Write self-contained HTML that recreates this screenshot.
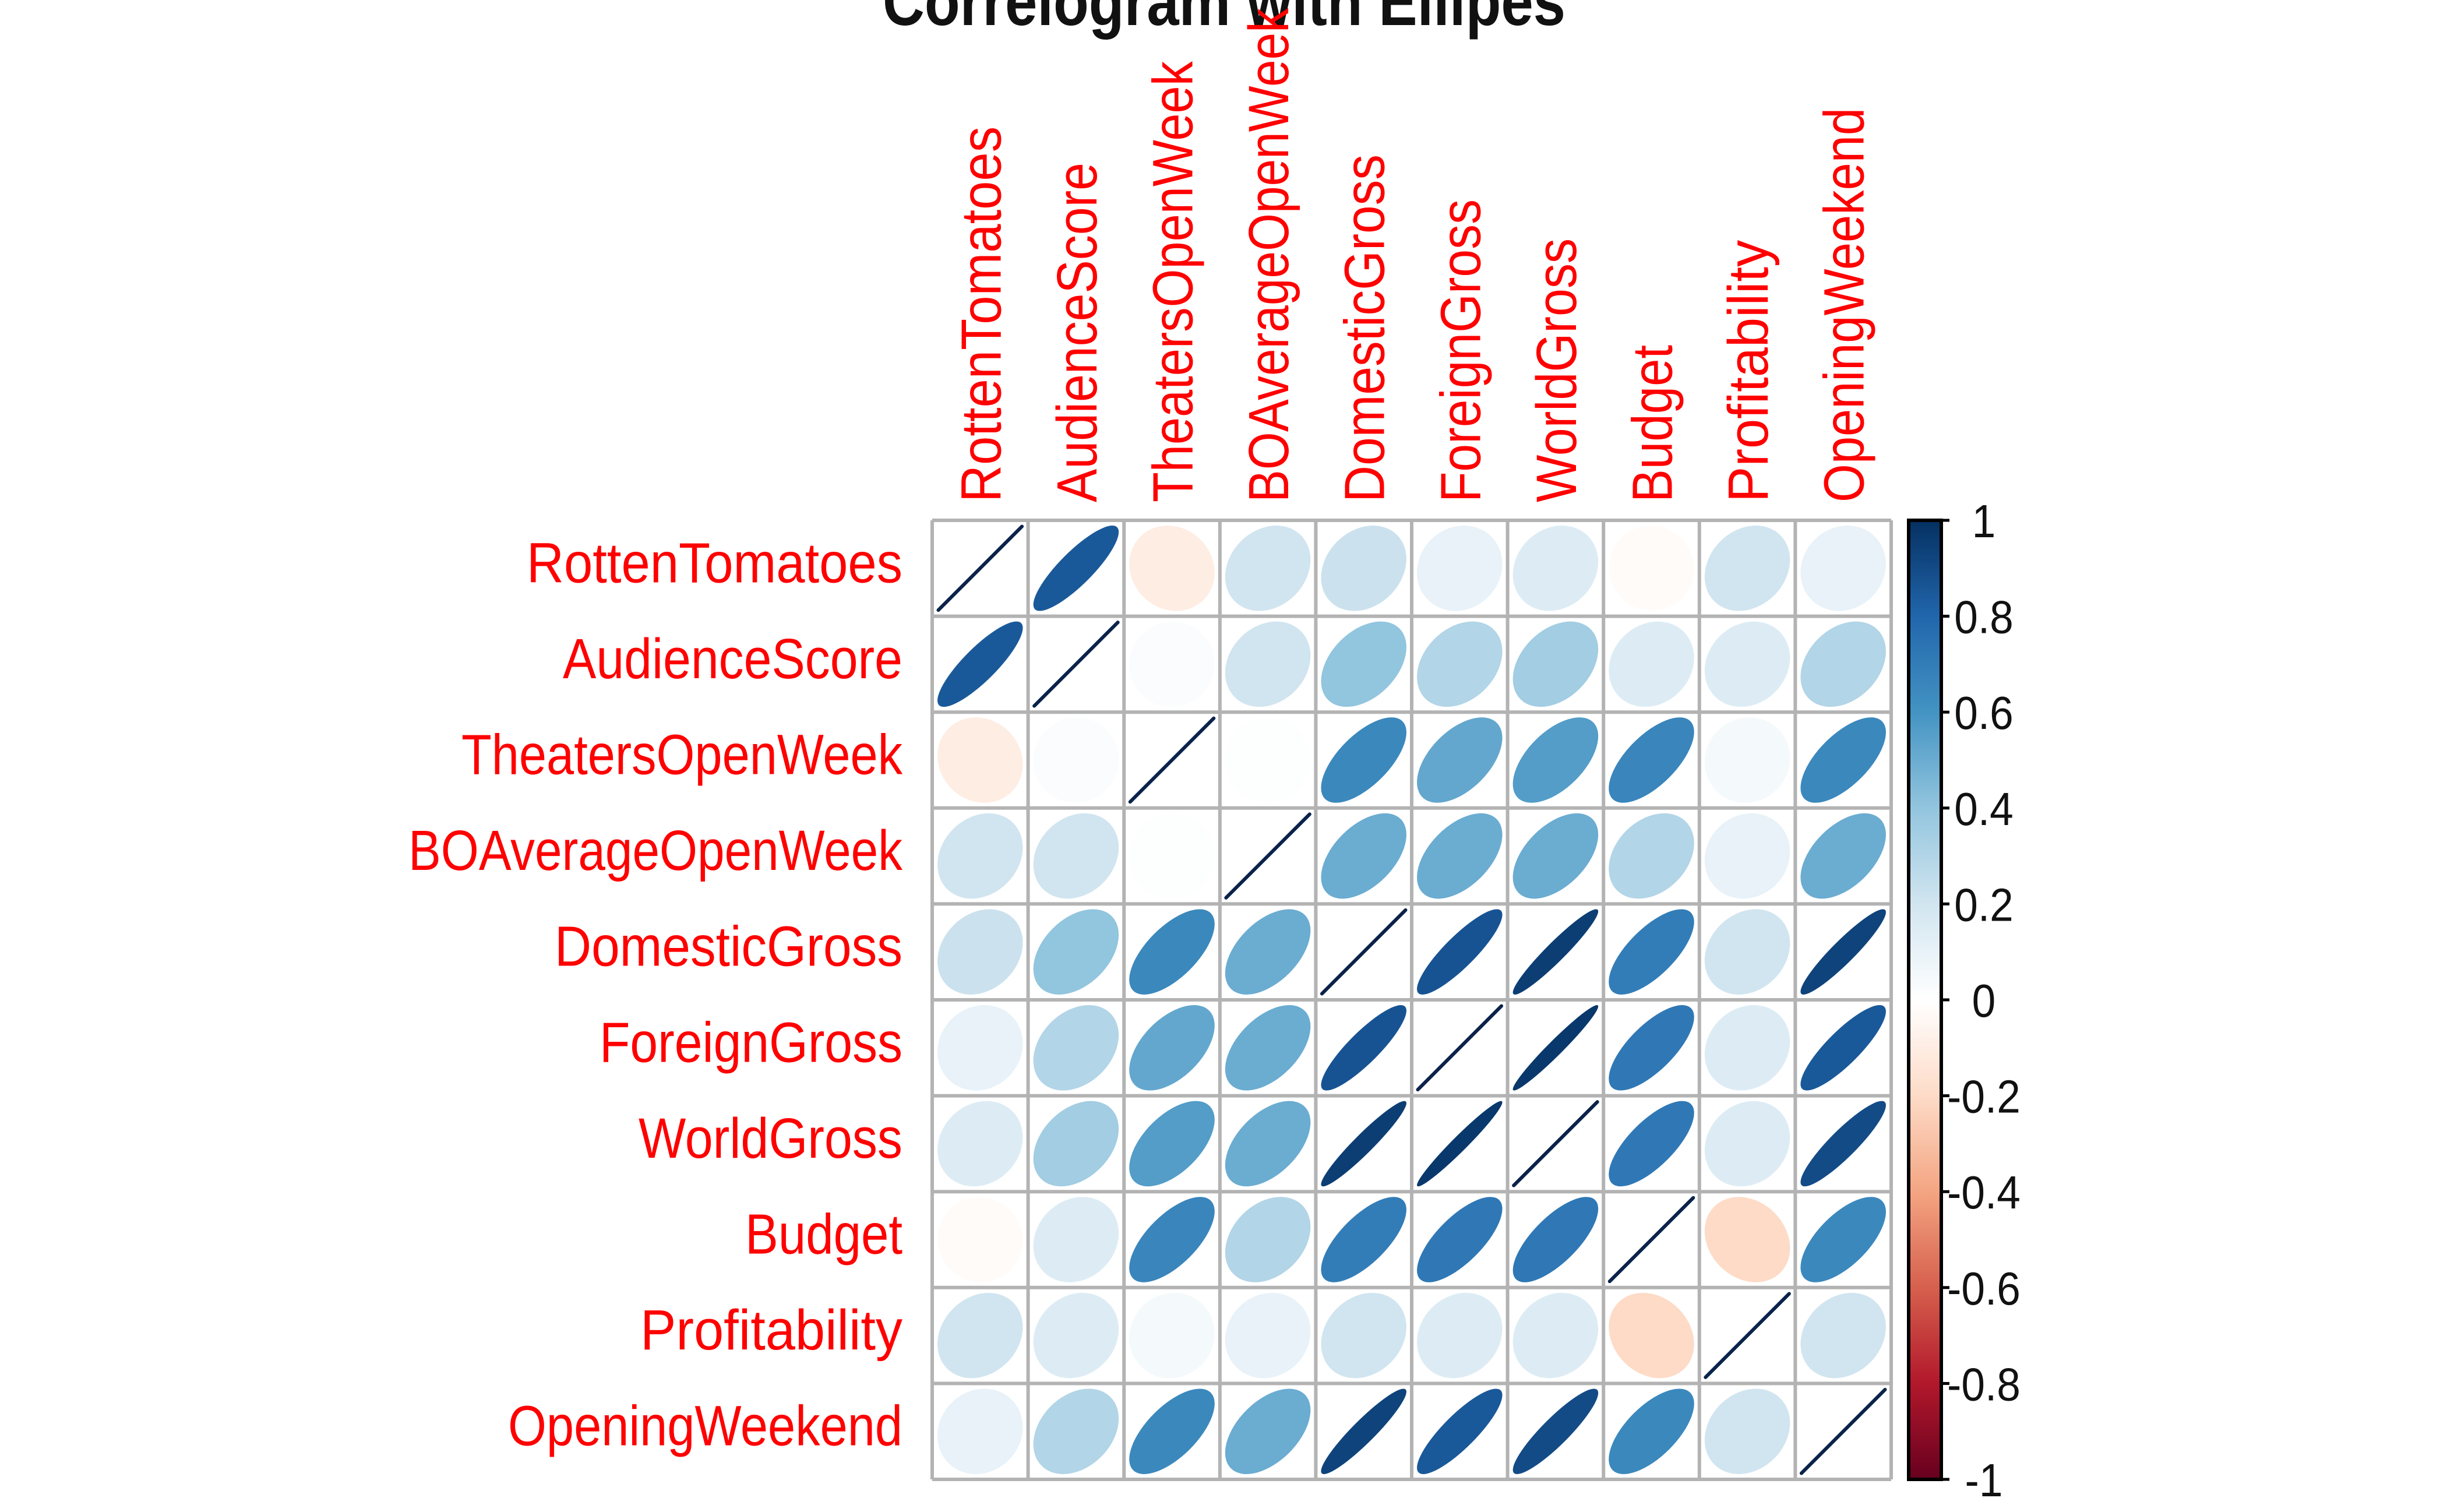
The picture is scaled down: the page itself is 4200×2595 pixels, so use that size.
<!DOCTYPE html>
<html><head><meta charset="utf-8"><style>
html,body{margin:0;padding:0;background:#fff;}
svg{display:block;}
text{font-family:"Liberation Sans",sans-serif;}
</style></head><body>
<svg id="chart" width="4200" height="2595" viewBox="0 0 4200 2595" xmlns="http://www.w3.org/2000/svg">
<text id="title" x="2101" y="43" text-anchor="middle" font-size="118" font-weight="bold" fill="#111" textLength="1172" lengthAdjust="spacingAndGlyphs">Correlogram with Ellipes</text>
<g id="cells"></g>
<g id="gridg"></g>
<g id="rowlab"></g>
<g id="collab"></g>
<g id="cbar"></g>
</svg>
<script>
const variables = ["RottenTomatoes","AudienceScore","TheatersOpenWeek","BOAverageOpenWeek","DomesticGross","ForeignGross","WorldGross","Budget","Profitability","OpeningWeekend"];
const rowRT  = [1, 0.85, -0.1, 0.2, 0.22, 0.1, 0.15, -0.02, 0.2, 0.1];
const rowAS  = [0.85, 1, 0.02, 0.2, 0.4, 0.3, 0.35, 0.15, 0.15, 0.3];
const rowTOW = [-0.1, 0.02, 1, 0.01, 0.65, 0.52, 0.56, 0.66, 0.05, 0.65];
const rowBOA = [0.2, 0.2, 0.01, 1, 0.5, 0.5, 0.5, 0.3, 0.1, 0.5];
const rowDG  = [0.22, 0.4, 0.65, 0.5, 1, 0.87, 0.95, 0.7, 0.2, 0.93];
const rowFG  = [0.1, 0.3, 0.52, 0.5, 0.87, 1, 0.97, 0.72, 0.15, 0.85];
const rowWG  = [0.15, 0.35, 0.56, 0.5, 0.95, 0.97, 1, 0.72, 0.15, 0.9];
const rowB   = [-0.02, 0.15, 0.66, 0.3, 0.7, 0.72, 0.72, 1, -0.2, 0.65];
const rowP   = [0.2, 0.15, 0.05, 0.1, 0.2, 0.15, 0.15, -0.2, 1, 0.2];
const rowOW  = [0.1, 0.3, 0.65, 0.5, 0.93, 0.85, 0.9, 0.65, 0.2, 1];
const corrRows = [rowRT,rowAS,rowTOW,rowBOA,rowDG,rowFG,rowWG,rowB,rowP,rowOW];
const cbTicks = [-1,-0.8,-0.6,-0.4,-0.2,0,0.2,0.4,0.6,0.8,1];
const cbLabels = ["-1","-0.8","-0.6","-0.4","-0.2","0","0.2","0.4","0.6","0.8","1"];

const NS="http://www.w3.org/2000/svg";
const X0=1600, Y0=893, CELL=164.6, N=variables.length;
const labelW=[645,583,757,848,597,520,453,270,450,677];
const stops=["#67001F","#B2182B","#D6604D","#F4A582","#FDDBC7","#FFFFFF","#D1E5F0","#92C5DE","#4393C3","#2166AC","#053061"];
function hex(h){return [1,3,5].map(i=>parseInt(h.substr(i,2),16));}
function colorOf(r){
  let t=(r+1)/2*(stops.length-1); t=Math.max(0,Math.min(stops.length-1,t));
  let i=Math.min(Math.floor(t),stops.length-2), f=t-i;
  const a=hex(stops[i]), b=hex(stops[i+1]);
  return "rgb("+a.map((v,k)=>Math.round(v+(b[k]-v)*f)).join(",")+")";
}
function mk(tag,attrs,parent){const e=document.createElementNS(NS,tag);for(const k in attrs)e.setAttribute(k,attrs[k]);parent.appendChild(e);return e;}
const xCol=j=>X0+CELL*(j+0.5), yRow=i=>Y0+CELL*(i+0.5);
const R=0.445*CELL;

const cells=document.getElementById("cells");
for(let i=0;i<N;i++){for(let j=0;j<N;j++){
  const r=corrRows[i][j];
  const cx=xCol(j), cy=yRow(i);
  if(i===j){
    const l=mk("line",{x1:cx-R*0.98,y1:cy+R*0.98,x2:cx+R*0.98,y2:cy-R*0.98,stroke:"#0B234A","stroke-width":6,"stroke-linecap":"round"},cells);
    
    
  } else {
    const a=R*Math.sqrt(1+r), b=R*Math.sqrt(Math.max(1-r,0.0001));
    const e=mk("ellipse",{cx:cx,cy:cy,rx:a,ry:b,transform:"rotate(-45 "+cx+" "+cy+")",fill:colorOf(r)},cells);
    
    
  }
}}
const gridg=document.getElementById("gridg");
for(let k=0;k<=N;k++){
  const v=mk("line",{x1:X0+CELL*k,y1:Y0,x2:X0+CELL*k,y2:Y0+CELL*N,stroke:"#b3b3b3","stroke-width":6},gridg);
  
  
  const h=mk("line",{x1:X0,y1:Y0+CELL*k,x2:X0+CELL*N,y2:Y0+CELL*k,stroke:"#b3b3b3","stroke-width":6},gridg);
  
  
}
const probe=mk("text",{x:0,y:-500,"font-size":97},document.getElementById("chart"));
probe.textContent="RottenTomatoes";
let K=645/probe.getComputedTextLength(); if(!isFinite(K)||K<=0)K=0.8;
function widthOf(s,fs){probe.setAttribute("font-size",fs);probe.textContent=s;return probe.getComputedTextLength()*K;}

const rowlab=document.getElementById("rowlab");
const collab=document.getElementById("collab");
variables.forEach((name,i)=>{
  const w=labelW[i];
  const t=mk("text",{x:1549,y:yRow(i)+24,"text-anchor":"end","font-size":97,fill:"#FF0000",textLength:w,lengthAdjust:"spacingAndGlyphs"},rowlab);
  t.textContent=name;
  
  
  const cx=xCol(i)+35, sy=862;
  const c=mk("text",{x:cx,y:sy,"text-anchor":"start","font-size":97,fill:"#FF0000",textLength:w,lengthAdjust:"spacingAndGlyphs",transform:"rotate(-90 "+cx+" "+sy+")"},collab);
  c.textContent=name;
  
  
});

const cb=document.getElementById("cbar");
const CBX=3276, CBW=56, CBT=893, CBB=2539;
const cbY=v=>CBB-(v+1)/2*(CBB-CBT);
const defs=mk("defs",{},cb);
const grad=mk("linearGradient",{id:"cbgrad",x1:0,y1:1,x2:0,y2:0},defs);
stops.forEach((s,k)=>mk("stop",{offset:k/(stops.length-1),"stop-color":s},grad));
const bar=mk("rect",{x:CBX,y:CBT,width:CBW,height:CBB-CBT,fill:"url(#cbgrad)",stroke:"#000","stroke-width":6},cb);


cbTicks.forEach((v,k)=>{
  const y=cbY(v);
  const tk=mk("line",{x1:CBX+CBW,y1:y,x2:CBX+CBW+14,y2:y,stroke:"#000","stroke-width":5},cb);
  
  
  const s=cbLabels[k];
  const t=mk("text",{x:3405,y:y+29,"text-anchor":"middle","font-size":80,fill:"#111",textLength:widthOf(s,80),lengthAdjust:"spacingAndGlyphs"},cb);
  t.textContent=s;
  
  
});
probe.remove();
</script>
</body></html>
